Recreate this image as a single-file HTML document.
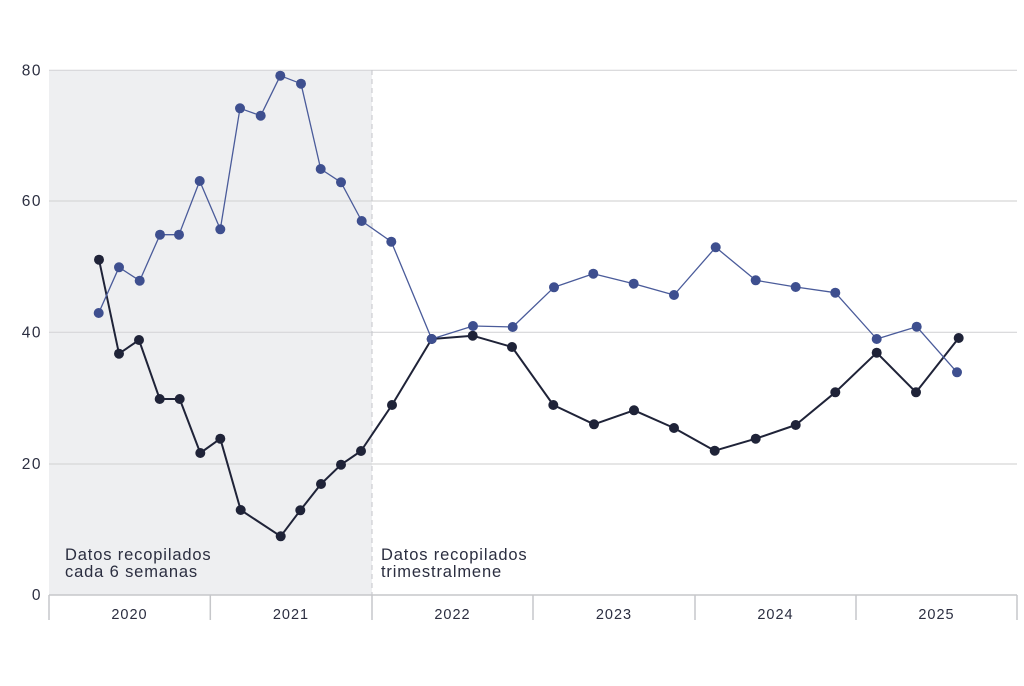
<!DOCTYPE html>
<html>
<head>
<meta charset="utf-8">
<style>
  html,body{margin:0;padding:0;background:#ffffff;}
  svg{display:block;}
  text{font-family:"Liberation Sans","DejaVu Sans",sans-serif;fill:#2b2e40;}
</style>
</head>
<body>
<svg width="1024" height="686" viewBox="0 0 1024 686" xmlns="http://www.w3.org/2000/svg">
  <rect x="0" y="0" width="1024" height="686" fill="#ffffff"/>
  <!-- shaded region -->
  <rect x="49" y="70" width="323" height="525" fill="#eeeff1"/>
  <!-- grid -->
  <g stroke="#d6d6d8" stroke-width="1.2">
    <line x1="49" y1="70.3" x2="1017" y2="70.3"/>
    <line x1="49" y1="201" x2="1017" y2="201"/>
    <line x1="49" y1="332.3" x2="1017" y2="332.3"/>
    <line x1="49" y1="464" x2="1017" y2="464"/>
  </g>
  <!-- dashed divider -->
  <line x1="372" y1="70" x2="372" y2="595" stroke="#c4c6ca" stroke-width="1" stroke-dasharray="5,4"/>
  <!-- x axis -->
  <g stroke="#c6c7ca" stroke-width="1.5">
    <line x1="49" y1="595" x2="1017" y2="595"/>
    <line x1="49" y1="595" x2="49" y2="620"/>
    <line x1="210.3" y1="595" x2="210.3" y2="620"/>
    <line x1="372" y1="595" x2="372" y2="620"/>
    <line x1="533" y1="595" x2="533" y2="620"/>
    <line x1="695" y1="595" x2="695" y2="620"/>
    <line x1="856" y1="595" x2="856" y2="620"/>
    <line x1="1017" y1="595" x2="1017" y2="620"/>
  </g>
  <!-- y labels -->
  <g font-size="15.5" text-anchor="end" letter-spacing="1.5">
    <text x="42" y="75.5">80</text>
    <text x="42" y="206">60</text>
    <text x="42" y="337.5">40</text>
    <text x="42" y="469">20</text>
    <text x="42" y="600">0</text>
  </g>
  <!-- year labels -->
  <g font-size="14.5" text-anchor="middle" letter-spacing="1">
    <text x="129.5" y="619">2020</text>
    <text x="291" y="619">2021</text>
    <text x="452.5" y="619">2022</text>
    <text x="614" y="619">2023</text>
    <text x="775.5" y="619">2024</text>
    <text x="936.5" y="619">2025</text>
  </g>
  <!-- annotations -->
  <g font-size="16.5" letter-spacing="0.85">
    <text x="65" y="560">Datos recopilados</text>
    <text x="65" y="577">cada 6 semanas</text>
    <text x="381" y="560">Datos recopilados</text>
    <text x="381" y="577">trimestralmene</text>
  </g>
  <!-- dark series -->
  <polyline fill="none" stroke="#1f2338" stroke-width="2" stroke-linejoin="round"
    points="99,259.7 119,353.7 139,340 159.7,399 179.7,399 200.3,453 220.3,438.7 240.7,510 280.7,536.3 300.3,510.3 321,484 341,464.7 361,451 392,405 431.7,339 472.7,335.7 512,347 553.3,405 594,424.3 634,410.3 674,428 714.7,450.7 755.7,438.7 795.7,425 835.3,392.3 876.7,352.7 916,392.3 958.7,338"/>
  <g fill="#1f2338">
    <circle cx="99" cy="259.7" r="5"/><circle cx="119" cy="353.7" r="5"/><circle cx="139" cy="340" r="5"/>
    <circle cx="159.7" cy="399" r="5"/><circle cx="179.7" cy="399" r="5"/><circle cx="200.3" cy="453" r="5"/>
    <circle cx="220.3" cy="438.7" r="5"/><circle cx="240.7" cy="510" r="5"/><circle cx="280.7" cy="536.3" r="5"/>
    <circle cx="300.3" cy="510.3" r="5"/><circle cx="321" cy="484" r="5"/><circle cx="341" cy="464.7" r="5"/>
    <circle cx="361" cy="451" r="5"/><circle cx="392" cy="405" r="5"/><circle cx="431.7" cy="339" r="5"/>
    <circle cx="472.7" cy="335.7" r="5"/><circle cx="512" cy="347" r="5"/><circle cx="553.3" cy="405" r="5"/>
    <circle cx="594" cy="424.3" r="5"/><circle cx="634" cy="410.3" r="5"/><circle cx="674" cy="428" r="5"/>
    <circle cx="714.7" cy="450.7" r="5"/><circle cx="755.7" cy="438.7" r="5"/><circle cx="795.7" cy="425" r="5"/>
    <circle cx="835.3" cy="392.3" r="5"/><circle cx="876.7" cy="352.7" r="5"/><circle cx="916" cy="392.3" r="5"/>
    <circle cx="958.7" cy="338" r="5"/>
  </g>
  <!-- blue series -->
  <polyline fill="none" stroke="#4a5b9a" stroke-width="1.3" stroke-linejoin="round"
    points="98.7,313 119,267.3 139.7,280.7 160,234.7 179,234.7 199.7,181 220.3,229.3 240,108.3 260.7,115.7 280.3,75.7 301,83.7 320.7,169 341,182.3 361.7,221 391.3,241.7 431.7,339 473,326 512.7,327 554,287.3 593.3,273.7 633.7,283.7 674,295 715.7,247.3 755.7,280.3 795.7,287 835.3,292.7 876.7,339 916.7,326.7 957,372.3"/>
  <g fill="#3e4f8f">
    <circle cx="98.7" cy="313" r="5"/><circle cx="119" cy="267.3" r="5"/><circle cx="139.7" cy="280.7" r="5"/>
    <circle cx="160" cy="234.7" r="5"/><circle cx="179" cy="234.7" r="5"/><circle cx="199.7" cy="181" r="5"/>
    <circle cx="220.3" cy="229.3" r="5"/><circle cx="240" cy="108.3" r="5"/><circle cx="260.7" cy="115.7" r="5"/>
    <circle cx="280.3" cy="75.7" r="5"/><circle cx="301" cy="83.7" r="5"/><circle cx="320.7" cy="169" r="5"/>
    <circle cx="341" cy="182.3" r="5"/><circle cx="361.7" cy="221" r="5"/><circle cx="391.3" cy="241.7" r="5"/>
    <circle cx="431.7" cy="339" r="5"/><circle cx="473" cy="326" r="5"/><circle cx="512.7" cy="327" r="5"/>
    <circle cx="554" cy="287.3" r="5"/><circle cx="593.3" cy="273.7" r="5"/><circle cx="633.7" cy="283.7" r="5"/>
    <circle cx="674" cy="295" r="5"/><circle cx="715.7" cy="247.3" r="5"/><circle cx="755.7" cy="280.3" r="5"/>
    <circle cx="795.7" cy="287" r="5"/><circle cx="835.3" cy="292.7" r="5"/><circle cx="876.7" cy="339" r="5"/>
    <circle cx="916.7" cy="326.7" r="5"/><circle cx="957" cy="372.3" r="5"/>
  </g>
</svg>
</body>
</html>
